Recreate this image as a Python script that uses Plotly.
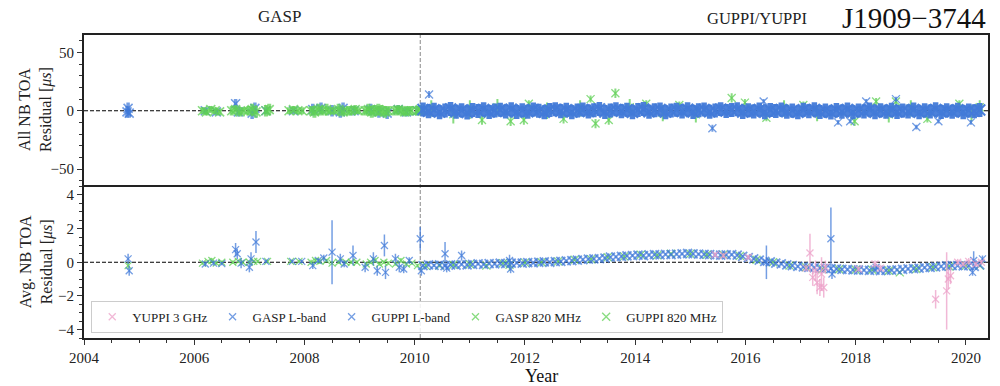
import plotly.graph_objects as go
from plotly.subplots import make_subplots

# ---------------- data ----------------
# GUPPI-era epochs (years)
gup_dates = [2010.15, 2010.25, 2010.35, 2010.45, 2010.55, 2010.65, 2010.75, 2010.85, 2010.95,
             2011.05, 2011.15, 2011.25, 2011.35, 2011.45, 2011.55, 2011.65, 2011.75, 2011.85, 2011.95,
             2012.05, 2012.15, 2012.25, 2012.35, 2012.45, 2012.55, 2012.65, 2012.75, 2012.85, 2012.95,
             2013.05, 2013.15, 2013.25, 2013.35, 2013.45, 2013.55, 2013.65, 2013.75, 2013.85, 2013.95,
             2014.05, 2014.15, 2014.25, 2014.35, 2014.45, 2014.55, 2014.65, 2014.75, 2014.85, 2014.95,
             2015.05, 2015.15, 2015.25, 2015.35, 2015.45, 2015.55, 2015.65, 2015.75, 2015.85, 2015.95,
             2016.05, 2016.15, 2016.25, 2016.35, 2016.45, 2016.55, 2016.65, 2016.75, 2016.85, 2016.95,
             2017.05, 2017.15, 2017.25, 2017.35, 2017.45, 2017.55, 2017.65, 2017.75, 2017.85, 2017.95,
             2018.05, 2018.15, 2018.25, 2018.35, 2018.45, 2018.55, 2018.65, 2018.75, 2018.85, 2018.95,
             2019.05, 2019.15, 2019.25, 2019.35, 2019.45, 2019.55, 2019.65, 2019.75, 2019.85, 2019.95,
             2020.05, 2020.15, 2020.25]

# Averaged GUPPI L-band residuals (us)
gup_l_avg = [-0.20, -0.15, -0.18, -0.15, -0.20, -0.15, -0.17, -0.12, -0.15,
             -0.12, -0.10, -0.12, -0.08, -0.10, -0.06, -0.08, -0.05, -0.04, -0.05,
             -0.02, -0.03, 0.00, 0.02, 0.00, 0.04, 0.05, 0.08, 0.10, 0.12,
             0.15, 0.18, 0.20, 0.22, 0.25, 0.30, 0.32, 0.35, 0.38, 0.40,
             0.42, 0.40, 0.43, 0.45, 0.44, 0.47, 0.45, 0.48, 0.50, 0.52,
             0.50, 0.48, 0.47, 0.45, 0.43, 0.42, 0.44, 0.45, 0.42, 0.35,
             0.28, 0.20, 0.12, 0.05, 0.02, -0.05, -0.10, -0.15, -0.20, -0.25,
             -0.28, -0.30, -0.32, -0.35, -0.37, -0.38, -0.40, -0.42, -0.43, -0.45,
             -0.46, -0.47, -0.48, -0.47, -0.50, -0.48, -0.47, -0.45, -0.42, -0.40,
             -0.38, -0.35, -0.32, -0.30, -0.27, -0.25, -0.22, -0.20, -0.20, -0.22,
             -0.20, -0.25, -0.15]
gup_l_avg_err = [0.08] * 3 + [0.07] * 96 + [0.1] * 3

gup_l_avg_xd = [2010.10, 2010.12, 2010.55, 2010.58, 2010.85, 2011.72, 2011.74, 2016.38, 2017.55,
                2017.57, 2018.37, 2020.12, 2020.14, 2020.30]
gup_l_avg_xr = [1.40, -0.50, 0.50, -0.35, 0.40, 0.10, -0.40, 0.00, 1.40,
                -0.70, -0.30, -0.60, 0.10, 0.20]
gup_l_avg_xe = [0.70, 0.30, 0.70, 0.25, 0.30, 0.35, 0.25, 1.00, 1.85,
                0.30, 0.20, 0.20, 0.55, 0.20]

gasp_l_avg_d = [2004.80, 2004.82, 2006.20, 2006.35, 2006.50, 2006.75, 2006.78, 2006.85, 2007.00,
                2007.03, 2007.12, 2007.30, 2007.78, 2007.95, 2008.15, 2008.25, 2008.35, 2008.50,
                2008.65, 2008.72, 2008.88, 2009.10, 2009.25, 2009.32, 2009.45, 2009.47, 2009.65,
                2009.72, 2009.80, 2009.90]
gasp_l_avg_r = [0.20, -0.50, -0.10, -0.05, -0.08, 0.75, 0.50, -0.05, -0.30,
                0.20, 1.20, 0.05, 0.05, 0.05, -0.20, 0.10, 0.25, 0.60,
                0.20, -0.10, 0.40, -0.30, 0.20, -0.50, 1.00, -0.60, 0.20,
                -0.30, -0.40, 0.10]
gasp_l_avg_e = [0.30, 0.30, 0.15, 0.15, 0.10, 0.40, 0.30, 0.30, 0.30,
                0.40, 0.65, 0.10, 0.10, 0.10, 0.20, 0.15, 0.20, 1.90,
                0.30, 0.20, 0.60, 0.30, 0.40, 0.30, 0.65, 0.40, 0.30,
                0.30, 0.25, 0.20]

gasp_820_avg_d = [2004.80, 2006.15, 2006.25, 2006.32, 2006.40, 2006.50, 2006.70, 2006.80, 2006.88,
                  2007.00, 2007.08, 2007.15, 2007.33, 2007.75, 2007.90, 2008.12, 2008.20, 2008.28,
                  2008.40, 2008.50, 2008.62, 2008.75, 2008.85, 2008.95, 2009.12, 2009.20, 2009.28,
                  2009.36, 2009.44, 2009.52, 2009.65, 2009.75, 2009.85, 2009.95, 2010.05]
gasp_820_avg_r = [-0.20, -0.05, 0.05, 0.10, -0.05, 0.00, 0.00, 0.05, 0.00,
                  0.00, 0.05, 0.05, 0.05, 0.05, 0.05, 0.00, 0.10, 0.05,
                  0.10, -0.05, 0.00, 0.00, 0.00, 0.00, -0.10, 0.00, 0.10,
                  -0.10, 0.00, -0.05, -0.10, 0.10, -0.10, -0.05, -0.20]
gasp_820_avg_e = [0.20, 0.10, 0.10, 0.15, 0.10, 0.10, 0.10, 0.10, 0.10,
                  0.10, 0.10, 0.10, 0.10, 0.10, 0.10, 0.15, 0.15, 0.15,
                  0.10, 0.10, 0.10, 0.10, 0.10, 0.10, 0.10, 0.10, 0.15,
                  0.10, 0.10, 0.10, 0.10, 0.15, 0.10, 0.10, 0.10]

gup_820_avg_d = [2010.20, 2010.45, 2010.70, 2011.00, 2011.30, 2011.60, 2011.72, 2012.00, 2012.30,
                 2012.60, 2012.90, 2013.20, 2013.50, 2013.80, 2014.10, 2014.40, 2014.65, 2015.00,
                 2015.30, 2015.60, 2015.90, 2016.20, 2016.50, 2016.80, 2017.10, 2017.40, 2017.70,
                 2018.00, 2018.30, 2018.60, 2018.80, 2019.10, 2019.40, 2019.70, 2020.00, 2020.25]
gup_820_avg_r = [-0.20, -0.20, -0.15, -0.12, -0.20, -0.05, -0.15, -0.02, 0.00,
                 0.05, 0.15, 0.18, 0.30, 0.35, 0.45, 0.42, 0.50, 0.50,
                 0.45, 0.45, 0.38, 0.15, 0.00, -0.20, -0.30, -0.40, -0.42,
                 -0.45, -0.45, -0.50, -0.60, -0.40, -0.30, -0.25, -0.20, -0.20]
gup_820_avg_e = [0.10] * 6 + [0.35] + [0.08] * 29

yup_avg_d = [2015.45, 2015.60, 2016.05, 2017.10, 2017.17, 2017.22, 2017.27, 2017.30, 2017.35,
             2017.38, 2017.42, 2017.45, 2018.05, 2018.35, 2018.45, 2019.45, 2019.65, 2019.68,
             2019.72, 2019.85, 2019.95, 2020.05, 2020.18, 2020.28]
yup_avg_r = [0.45, 0.40, 0.30, -0.35, 0.55, -0.90, -0.50, -1.20, -1.50,
             -0.70, -1.50, -0.30, -0.40, -0.10, -0.35, -2.20, -1.70, -1.00,
             -0.80, 0.00, -0.10, 0.05, -0.10, 0.00]
yup_avg_e = [0.15, 0.15, 0.15, 0.20, 1.15, 0.50, 0.60, 0.70, 0.50,
             1.00, 0.60, 0.40, 0.15, 0.20, 0.20, 0.55, 2.30, 0.60,
             0.50, 0.20, 0.15, 0.20, 0.15, 0.15]

# All NB TOA residuals (us), top panel
gup_l_all = [1.0, -0.5, 0.8, -1.2, 0.3, 1.5, -0.8, 0.5, -1.5,
             0.7, -0.3, 1.2, -1.0, 0.2, 0.9, -0.6, 1.4, -1.1, 0.4,
             -0.9, 1.1, 0.0, -1.3, 0.6, 1.3, -0.4, 0.8, -1.2, 0.2,
             1.0, -0.7, 0.5, 1.6, -1.0, 0.3, 1.2, -0.5, 0.9, -1.4,
             0.6, 1.5, -0.8, 0.4, 1.1, -1.2, 0.2, 0.8, -0.6, 1.3,
             -1.0, 0.5, 1.0, -0.9, 0.3, 1.4, -0.3, 0.7, 1.2, -1.1,
             0.4, -0.7, 1.0, -1.3, 0.6, -0.2, 1.1, -0.9, 0.3, -1.4,
             0.8, -0.5, 1.2, -1.0, 0.2, -1.5, 0.6, -0.8, 1.0, -1.2,
             0.3, -0.6, 1.1, -1.3, 0.5, -0.9, 0.8, -1.1, 0.2, -0.7,
             1.0, -1.4, 0.4, -0.6, 1.2, -1.0, 0.5, -0.8, 0.9, -1.2,
             0.3, -0.5, 0.6]
gup_l_all_err = 6.0
gup_l_all_xd = [2010.26, 2015.40, 2016.33, 2017.68, 2017.90, 2018.19, 2018.73, 2019.10, 2019.50, 2020.09]
gup_l_all_xr = [14.0, -15.0, 8.0, -10.0, -9.0, 8.0, 10.0, -14.0, -9.0, -10.0]
gup_l_all_xe = [3.0, 3.0, 2.0, 2.0, 2.0, 2.0, 2.0, 2.0, 2.0, 2.0]

gup_820_all_d = [2010.30, 2010.70, 2011.00, 2011.22, 2011.50, 2011.74, 2011.98, 2012.07, 2012.40,
                 2012.70, 2013.00, 2013.19, 2013.28, 2013.52, 2013.64, 2013.90, 2014.20, 2014.50,
                 2014.80, 2015.10, 2015.75, 2015.99, 2016.38, 2016.70, 2017.05, 2017.30, 2017.98,
                 2018.37, 2018.60, 2018.73, 2019.00, 2019.30, 2019.88, 2020.10, 2020.25]
gup_820_all_r = [2.0, -3.0, 1.0, -8.0, 3.0, -9.0, -8.0, 6.0, 0.0,
                 -7.0, 2.0, 10.0, -11.0, -8.0, 15.0, 3.0, 6.0, -2.0,
                 5.0, -3.0, 11.0, 7.0, -6.0, 2.0, 5.0, -2.0, -9.0,
                 8.0, -3.0, 8.0, 2.0, -7.0, 6.0, -2.0, 3.0]
gup_820_all_e = [7.0, 8.0, 8.0, 4.0, 7.0, 4.0, 4.0, 3.0, 7.0,
                 4.0, 7.0, 3.0, 4.0, 4.0, 4.0, 7.0, 3.0, 7.0,
                 3.0, 7.0, 4.0, 3.0, 3.0, 7.0, 3.0, 7.0, 4.0,
                 3.0, 7.0, 3.0, 7.0, 3.0, 3.0, 7.0, 6.0]

gasp_l_all_d = [2004.78, 2004.80, 2004.82, 2006.20, 2006.40, 2006.75, 2006.80, 2007.05, 2007.10,
                2007.30, 2007.80, 2008.15, 2008.30, 2008.50, 2008.65, 2008.70, 2008.90, 2009.20,
                2009.35, 2009.50, 2009.70, 2009.85, 2010.05]
gasp_l_all_r = [-1.0, 2.0, -2.0, 0.0, -1.0, 6.0, -1.0, -2.0, 2.0,
                0.0, 0.0, 1.0, 2.0, 0.0, -1.0, 2.0, 0.0, 1.0,
                -1.0, -2.0, 1.0, -1.0, 0.0]
gasp_l_all_e = [5.0, 5.0, 4.0, 3.0, 3.0, 4.0, 4.0, 5.0, 5.0,
                3.0, 3.0, 5.0, 5.0, 5.0, 5.0, 5.0, 4.0, 5.0,
                5.0, 5.0, 4.0, 4.0, 4.0]

gasp_820_all_d = [2006.15, 2006.22, 2006.30, 2006.38, 2006.46, 2006.68, 2006.75, 2006.83, 2006.90,
                  2006.98, 2007.05, 2007.12, 2007.30, 2007.36, 2007.72, 2007.80, 2007.88, 2007.96,
                  2008.12, 2008.18, 2008.25, 2008.32, 2008.40, 2008.46, 2008.54, 2008.62, 2008.70,
                  2008.78, 2008.84, 2008.92, 2008.98, 2009.10, 2009.16, 2009.22, 2009.28, 2009.34,
                  2009.40, 2009.46, 2009.52, 2009.64, 2009.70, 2009.76, 2009.82, 2009.88, 2009.94,
                  2010.04, 2010.10, 2010.16]
gasp_820_all_r = [0.0, -1.0, 1.0, 0.0, -1.0, 0.0, 1.0, -1.0, 0.0,
                  0.0, 1.0, -1.0, 0.0, 1.0, 0.0, 1.0, 0.0, 0.0,
                  0.0, -1.0, 1.0, 0.0, 1.0, 0.0, 0.0, 1.0, -1.0,
                  0.0, 0.0, 1.0, 0.0, 0.0, 1.0, -1.0, 0.0, 1.0,
                  0.0, -1.0, 0.0, 0.0, 1.0, 0.0, -1.0, 0.0, 0.0,
                  0.0, 1.0, 0.0]
gasp_820_all_e = [3.0, 3.0, 3.0, 3.0, 3.0, 4.0, 4.0, 4.0, 3.0,
                  4.0, 5.0, 5.0, 5.0, 5.0, 3.0, 3.0, 3.0, 3.0,
                  4.0, 5.0, 5.0, 4.0, 5.0, 3.0, 3.0, 5.0, 4.0,
                  4.0, 4.0, 4.0, 3.0, 4.0, 5.0, 5.0, 5.0, 5.0,
                  5.0, 5.0, 4.0, 4.0, 4.0, 4.0, 4.0, 4.0, 4.0,
                  4.0, 4.0, 4.0]

series_names = ["YUPPI 3 GHz", "GASP L-band", "GUPPI L-band", "GASP 820 MHz", "GUPPI 820 MHz"]
boundary_year = 2010.1

# ---------------- styling ----------------
BLUE = "rgba(62,120,216,0.72)"
BLUE_SOLID = "rgba(66,122,216,0.95)"
GREEN = "rgba(96,208,86,0.75)"
PINK = "rgba(236,160,200,0.75)"
SERIF = "Liberation Serif"
INK = "#222"

fig = make_subplots(rows=2, cols=1, shared_xaxes=True, vertical_spacing=0)


def add(x, y, e, color, row, name, rank, show, msize, ethick, lw=1.3):
    fig.add_trace(go.Scatter(
        x=x, y=y, mode="markers", name=name, legendrank=rank, showlegend=show,
        marker=dict(symbol="x-thin", size=msize, color=color, line=dict(width=lw, color=color)),
        error_y=dict(type="data", array=e, visible=True, color=color, thickness=ethick, width=0),
    ), row=row, col=1)


# top panel
add(gasp_l_all_d, gasp_l_all_r, gasp_l_all_e, BLUE, 1, series_names[1], 2, False, 9, 3.5, lw=1.6)
add(gasp_820_all_d, gasp_820_all_r, gasp_820_all_e, GREEN, 1, series_names[3], 4, False, 9, 4, lw=1.6)
add(gup_820_all_d, gup_820_all_r, gup_820_all_e, GREEN, 1, series_names[4], 5, False, 8, 2)
fig.add_trace(go.Scatter(
    x=gup_dates, y=gup_l_all, mode="markers", showlegend=False,
    marker=dict(symbol="x-thin", size=11, color=BLUE_SOLID, line=dict(width=2, color=BLUE_SOLID)),
    error_y=dict(type="constant", value=gup_l_all_err, visible=True, color=BLUE_SOLID,
                 thickness=5.5, width=0),
), row=1, col=1)
add(gup_l_all_xd, gup_l_all_xr, gup_l_all_xe, BLUE, 1, series_names[2], 3, False, 8, 2)

# bottom panel
add(gasp_820_avg_d, gasp_820_avg_r, gasp_820_avg_e, GREEN, 2, series_names[3], 4, True, 7, 1.5)
add(gup_820_avg_d, gup_820_avg_r, gup_820_avg_e, GREEN, 2, series_names[4], 5, True, 8, 1.5)
add(gasp_l_avg_d, gasp_l_avg_r, gasp_l_avg_e, BLUE, 2, series_names[1], 2, True, 7, 1.5)
add(gup_dates, gup_l_avg, gup_l_avg_err, BLUE, 2, series_names[2], 3, False, 9, 1.8, lw=1.8)
add(gup_l_avg_xd, gup_l_avg_xr, gup_l_avg_xe, BLUE, 2, series_names[2], 3, True, 7, 1.5)
add(yup_avg_d, yup_avg_r, yup_avg_e, PINK, 2, series_names[0], 1, True, 7, 1.5)

tickfont = dict(family=SERIF, size=15, color=INK)
minor_common = dict(ticklen=3, ticks="outside", tickcolor="#333", tickwidth=1)

# top x axis: only the upper frame line; bottom x axis draws the separator and the bottom line
fig.update_xaxes(range=[2004, 2020.4], dtick=2, tick0=2004, showgrid=False, zeroline=False)
fig.update_xaxes(side="top", showline=True, linewidth=2, linecolor=INK, mirror=False,
                 showticklabels=False, ticks="", row=1, col=1)
fig.update_xaxes(showline=True, linewidth=2, linecolor=INK, mirror=True,
                 ticks="outside", ticklen=5, tickwidth=1, tickcolor="#333", tickfont=tickfont,
                 minor=dict(dtick=0.5, **minor_common), row=2, col=1)

yax_common = dict(showline=True, linewidth=2, linecolor=INK, mirror=True,
                  ticks="outside", ticklen=5, tickwidth=1, tickcolor="#333",
                  showgrid=False, zeroline=False, tickfont=tickfont)
fig.update_yaxes(range=[-65, 65], dtick=50, tick0=0,
                 minor=dict(dtick=10, **minor_common), row=1, col=1, **yax_common)
fig.update_yaxes(range=[-4.5, 4.5], dtick=2, tick0=0,
                 minor=dict(dtick=0.5, **minor_common), row=2, col=1, **yax_common)

shapes = [
    dict(type="line", xref="x domain", x0=0, x1=1, yref="y", y0=0, y1=0,
         line=dict(color="black", width=1, dash="4px,2px"), layer="below"),
    dict(type="line", xref="x2 domain", x0=0, x1=1, yref="y2", y0=0, y1=0,
         line=dict(color="black", width=1, dash="4px,2px"), layer="below"),
    dict(type="line", xref="x", x0=boundary_year, x1=boundary_year, yref="paper", y0=0, y1=1,
         line=dict(color="#888", width=1, dash="4px,2px"), layer="below"),
]

annotations = [
    dict(text="GASP", x=0.2163, y=1.06, xref="paper", yref="paper", showarrow=False,
         xanchor="center", yanchor="middle", font=dict(family=SERIF, size=17, color=INK)),
    dict(text="GUPPI/YUPPI", x=0.744, y=1.055, xref="paper", yref="paper", showarrow=False,
         xanchor="center", yanchor="middle", font=dict(family=SERIF, size=16.5, color=INK)),
    dict(text="J1909\u22123744", x=1.0, y=1.056, xref="paper", yref="paper", showarrow=False,
         xanchor="right", yanchor="middle", font=dict(family=SERIF, size=29, color="#111")),
    dict(text="All NB TOA<br>Residual [<i>\u03bcs</i>]", x=-0.053, y=0.7525, xref="paper", yref="paper",
         xanchor="center", yanchor="middle",
         showarrow=False, textangle=-90, font=dict(family=SERIF, size=16, color=INK)),
    dict(text="Avg. NB TOA<br>Residual [<i>\u03bcs</i>]", x=-0.053, y=0.25, xref="paper", yref="paper",
         xanchor="center", yanchor="middle",
         showarrow=False, textangle=-90, font=dict(family=SERIF, size=16, color=INK)),
    dict(text="Year", x=0.506, y=-0.125, xref="paper", yref="paper", showarrow=False,
         xanchor="center", yanchor="middle", font=dict(family=SERIF, size=18, color="#111")),
]

fig.update_layout(
    width=1000, height=386,
    margin=dict(l=84, r=10, t=35, b=48),
    paper_bgcolor="white", plot_bgcolor="white",
    shapes=shapes, annotations=annotations,
    showlegend=True,
    legend=dict(orientation="h", x=0.008, y=0.017, xanchor="left", yanchor="bottom",
                xref="paper", yref="paper",
                bgcolor="rgba(255,255,255,0.85)", bordercolor="#ccc", borderwidth=1,
                font=dict(family=SERIF, size=13, color=INK),
                itemwidth=30, tracegroupgap=0),
    font=dict(family=SERIF),
)

fig.write_html("out.html")
